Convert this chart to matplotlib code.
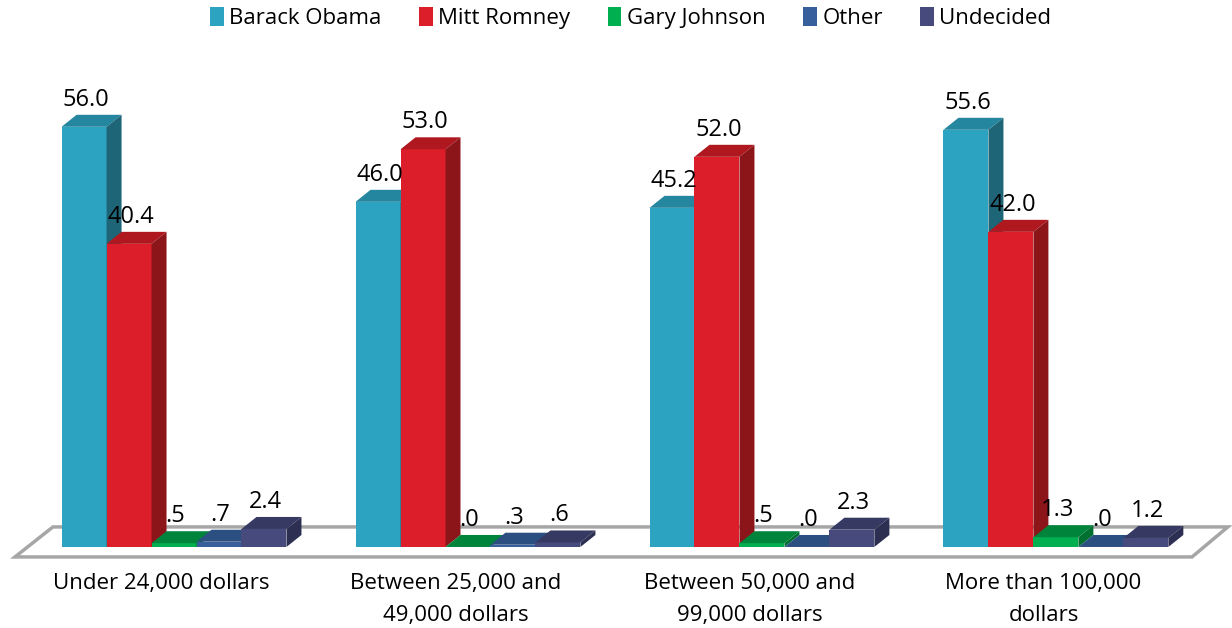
import matplotlib
matplotlib.use("Agg")
import matplotlib.pyplot as plt
from matplotlib.patches import Polygon, Rectangle, Patch

plt.rcParams['font.family'] = ['Open Sans', 'DejaVu Sans']

categories = ["Under 24,000 dollars", "Between 25,000 and\n49,000 dollars",
              "Between 50,000 and\n99,000 dollars", "More than 100,000\ndollars"]
series = ["Barack Obama", "Mitt Romney", "Gary Johnson", "Other", "Undecided"]
obama = [56.0, 46.0, 45.2, 55.6]
romney = [40.4, 53.0, 52.0, 42.0]
johnson = [0.5, 0.0, 0.5, 1.3]
other = [0.7, 0.3, 0.0, 0.0]
undecided = [2.4, 0.6, 2.3, 1.2]
values = [obama, romney, johnson, other, undecided]

front = ["#2CA3C1", "#DC1E2B", "#00B050", "#365F9C", "#464A7C"]
top = ["#25869F", "#B0181F", "#00843C", "#2C4F82", "#363A63"]
side = ["#1E6677", "#8C151A", "#007030", "#24416B", "#2C2F52"]

def fmt(v):
    s = f"{v:.1f}"
    if s.startswith("0"):
        s = s[1:]
    return s

fig = plt.figure(figsize=(12.32, 6.28), dpi=100)
ax = fig.add_axes([0, 0, 1, 1])
ax.set_xlim(-0.592, 3.599)
ax.set_ylim(-10.8, 72.9)
ax.axis("off")

w = 0.153
dx = 0.051
dy = 1.6

# floor
floor = Polygon([(-0.541, -1.33), (3.463, -1.33), (3.585, 2.67), (-0.412, 2.67)],
                closed=True, facecolor="white", edgecolor="#A6A6A6", lw=2.5, zorder=1)
ax.add_patch(floor)

for g in range(len(categories)):
    x0 = g - 2.5 * w
    for s in range(len(series)):
        v = values[s][g]
        x = x0 + s * w
        z = 2 + g * 10 + s
        ax.add_patch(Rectangle((x, 0), w, v, facecolor=front[s], edgecolor="none", zorder=z))
        ax.add_patch(Polygon([(x, v), (x + w, v), (x + w + dx, v + dy), (x + dx, v + dy)],
                             closed=True, facecolor=top[s], edgecolor="none", zorder=z))
        ax.add_patch(Polygon([(x + w, 0), (x + w + dx, dy), (x + w + dx, v + dy), (x + w, v)],
                             closed=True, facecolor=side[s], edgecolor="none", zorder=z))
        ax.text(x + w / 2 + 0.005, v + dy + 0.4, fmt(v), ha="center", va="bottom",
                fontsize=17, color="black", zorder=100)
    ax.text(g - 0.042, -3.5, categories[g], ha="center", va="top",
            fontsize=16, color="black", linespacing=1.65)

handles = [Patch(facecolor=front[i], edgecolor="none", label=series[i]) for i in range(5)]
fig.legend(handles=handles, loc="upper center", bbox_to_anchor=(0.512, 1.02), ncol=5,
           frameon=False, fontsize=16, handlelength=0.6, handleheight=0.9,
           handletextpad=0.25, columnspacing=1.7)

fig.savefig("out.png", dpi=100)
